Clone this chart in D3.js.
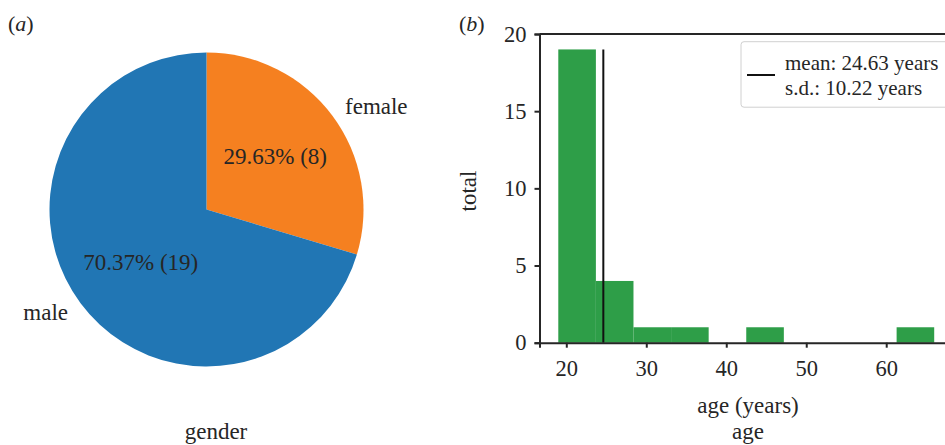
<!DOCTYPE html>
<html>
<head>
<meta charset="utf-8">
<script src="https://cdn.jsdelivr.net/npm/d3@7/dist/d3.min.js"></script>
<style>
  html, body { margin: 0; padding: 0; background: #fff; }
  svg text { font-family: "Liberation Serif", "Times New Roman", serif; fill: #262626; }
</style>
</head>
<body>
<svg id="chart" width="945" height="445"></svg>
<script>
// ---- data ----
const genderCategories = ["female", "male"];
const genderCounts = [8, 19];
const genderColors = ["#f58020", "#2176b4"];

const ageBinEdges = [19, 23.7, 28.4, 33.1, 37.8, 42.5, 47.2, 51.9, 56.6, 61.3, 66];
const ageBinCounts = [19, 4, 1, 1, 0, 1, 0, 0, 0, 1];
const ageMean = 24.63;
const ageSD = 10.22;
const xTickValues = [20, 30, 40, 50, 60];
const yTickValues = [0, 5, 10, 15, 20];

const svg = d3.select("#chart");
const ink = "#262626";

// ---- (a) pie ----
const cx = 206.5, cy = 209.5, R = 157;
const total = d3.sum(genderCounts);
const pieData = genderCategories.map((c, i) => ({ cat: c, value: genderCounts[i], color: genderColors[i] }));
const pie = d3.pie().value(d => d.value).sort(null);
const arcs = pie(pieData);
const arc = d3.arc().innerRadius(0).outerRadius(R);
const gPie = svg.append("g").attr("transform", `translate(${cx},${cy})`);
gPie.selectAll("path.slice").data(arcs).enter().append("path")
  .attr("class", "slice")
  .attr("d", arc)
  .attr("fill", d => d.data.color);

const pctArc = d3.arc().innerRadius(R * 0.57).outerRadius(R * 0.57);
gPie.selectAll("text.pct").data(arcs).enter().append("text")
  .attr("class", "pct")
  .attr("x", d => pctArc.centroid(d)[0] + (pctArc.centroid(d)[0] >= 0 ? -3 : 6))
  .attr("y", d => pctArc.centroid(d)[1])
  .attr("text-anchor", "middle")
  .attr("dominant-baseline", "central")
  .style("font-size", "23px")
  .text(d => `${(d.data.value / total * 100).toFixed(2)}% (${d.data.value})`);

const labArc = d3.arc().innerRadius(R * 1.1).outerRadius(R * 1.1);
gPie.selectAll("text.lab").data(arcs).enter().append("text")
  .attr("class", "lab")
  .attr("x", d => labArc.centroid(d)[0])
  .attr("y", d => labArc.centroid(d)[1])
  .attr("text-anchor", d => labArc.centroid(d)[0] >= 0 ? "start" : "end")
  .attr("dominant-baseline", "central")
  .style("font-size", "23px")
  .text(d => d.data.cat);

svg.append("text").attr("x", 216).attr("y", 431)
  .attr("text-anchor", "middle").attr("dominant-baseline", "central")
  .style("font-size", "23px").text("gender");

const pa = svg.append("text").attr("x", 8).attr("y", 31).style("font-size", "22px");
pa.append("tspan").text("(");
pa.append("tspan").style("font-style", "italic").text("a");
pa.append("tspan").text(")");

// ---- (b) histogram ----
const x = d3.scaleLinear().domain([16.65, 68.35]).range([539.5, 953]);
const y = d3.scaleLinear().domain([0, 20]).range([342.7, 34]);

const bins = ageBinCounts.map((c, i) => ({ x0: ageBinEdges[i], x1: ageBinEdges[i + 1], count: c }));
svg.append("g").selectAll("rect").data(bins.filter(b => b.count > 0)).enter().append("rect")
  .attr("x", d => x(d.x0))
  .attr("width", d => x(d.x1) - x(d.x0))
  .attr("y", d => y(d.count))
  .attr("height", d => y(0) - y(d.count))
  .attr("fill", "#2e9e48");

// mean line
svg.append("line")
  .attr("x1", x(ageMean)).attr("x2", x(ageMean))
  .attr("y1", y(0)).attr("y2", y(d3.max(ageBinCounts)))
  .attr("stroke", "#111").attr("stroke-width", 2);

// axes
const xAxis = d3.axisBottom(x).tickValues(xTickValues).tickSize(5).tickPadding(8).tickFormat(d3.format("d"));
const yAxis = d3.axisLeft(y).tickValues(yTickValues).tickSize(5).tickPadding(8).tickFormat(d3.format("d"));
const gx = svg.append("g").attr("transform", `translate(0,${y(0)})`).call(xAxis);
const gy = svg.append("g").attr("transform", `translate(${x.range()[0]},0)`).call(yAxis);
[gx, gy].forEach(g => {
  g.attr("font-family", null).attr("font-size", null);
  g.select(".domain").attr("stroke", ink).attr("stroke-width", 2);
  g.selectAll(".tick line").attr("stroke", ink).attr("stroke-width", 2);
  g.selectAll(".tick text").style("font-size", "22.5px")
    .style("font-family", "'Liberation Serif', 'Times New Roman', serif").attr("fill", ink);
});
gx.selectAll(".tick text").attr("dy", "0.9em");
// top / right spines
svg.append("line").attr("x1", x.range()[0]).attr("x2", x.range()[1])
  .attr("y1", y(20)).attr("y2", y(20)).attr("stroke", ink).attr("stroke-width", 2);
svg.append("line").attr("x1", x.range()[1]).attr("x2", x.range()[1])
  .attr("y1", y(0)).attr("y2", y(20)).attr("stroke", ink).attr("stroke-width", 2);

// axis labels
svg.append("text").attr("x", 748).attr("y", 405)
  .attr("text-anchor", "middle").attr("dominant-baseline", "central")
  .style("font-size", "23px").text("age (years)");
svg.append("text").attr("x", 748).attr("y", 431)
  .attr("text-anchor", "middle").attr("dominant-baseline", "central")
  .style("font-size", "23px").text("age");
svg.append("text")
  .attr("transform", `translate(468,191) rotate(-90)`)
  .attr("text-anchor", "middle").attr("dominant-baseline", "central")
  .style("font-size", "23px").text("total");

const pb = svg.append("text").attr("x", 459).attr("y", 31).style("font-size", "22px");
pb.append("tspan").text("(");
pb.append("tspan").style("font-style", "italic").text("b");
pb.append("tspan").text(")");

// legend
const lg = svg.append("g");
lg.append("rect").attr("x", 741).attr("y", 41.7).attr("width", 230).attr("height", 65.5)
  .attr("rx", 3).attr("fill", "#fff").attr("fill-opacity", 0.8)
  .attr("stroke", "#d0d0d0").attr("stroke-width", 1);
lg.append("line").attr("x1", 747).attr("x2", 775).attr("y1", 75).attr("y2", 75)
  .attr("stroke", "#111").attr("stroke-width", 2);
lg.append("text").attr("x", 785).attr("y", 62.7).attr("dominant-baseline", "central")
  .style("font-size", "21px").text(`mean: ${ageMean.toFixed(2)} years`);
lg.append("text").attr("x", 785).attr("y", 88).attr("dominant-baseline", "central")
  .style("font-size", "21px").text(`s.d.: ${ageSD.toFixed(2)} years`);
</script>
</body>
</html>
